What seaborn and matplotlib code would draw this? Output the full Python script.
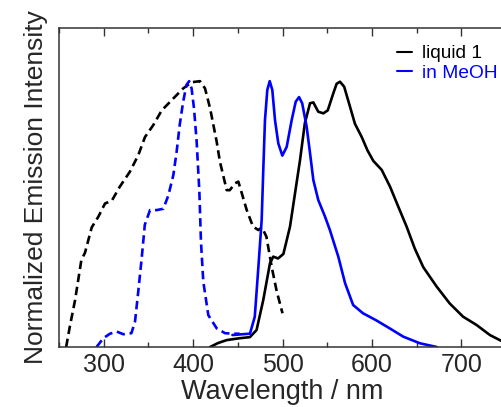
import matplotlib
matplotlib.use("Agg")
import matplotlib.pyplot as plt
import seaborn as sns
from matplotlib.ticker import MultipleLocator, NullLocator
from matplotlib.lines import Line2D

# excitation, liquid 1 (black dashed)
ex_liq_x = [258, 262, 268, 275, 279, 286.6, 294, 301.5, 309, 318, 329.4, 338.7, 346.2, 355.5, 364.9,
            377.9, 389, 398.4, 407.7, 413.3, 419, 426.4, 430, 437.6, 441, 447, 450.6, 454.5, 460,
            467, 473, 477, 482, 488, 493.5, 500]
ex_liq_y = [0, 0.075, 0.177, 0.327, 0.354, 0.45, 0.49, 0.54, 0.55, 0.603, 0.66, 0.722, 0.79, 0.835,
            0.89, 0.935, 0.973, 0.996, 1.0, 0.973, 0.898, 0.772, 0.697, 0.59, 0.59, 0.616, 0.622,
            0.578, 0.515, 0.453, 0.44, 0.45, 0.415, 0.30, 0.21, 0.127]

# excitation, in MeOH (blue dashed)
ex_meoh_x = [292, 299.6, 307, 314.5, 322, 331, 335, 338.7, 342.5, 346, 351.8, 359.3, 366.7, 372.3,
             377.9, 381.6, 385, 388.9, 392.6, 395.6, 398.3, 401, 404, 407, 408.8, 411.4, 417,
             426.4, 435.7, 445, 452]
ex_meoh_y = [0, 0.033, 0.05, 0.058, 0.048, 0.052, 0.095, 0.21, 0.334, 0.46, 0.515, 0.515, 0.52,
             0.57, 0.647, 0.735, 0.835, 0.923, 0.986, 1.0, 0.973, 0.898, 0.772, 0.584, 0.396,
             0.246, 0.12, 0.07, 0.052, 0.05, 0.05]

# emission, liquid 1 (black solid)
em_liq_x = [419, 428, 437.6, 452, 463.5, 471, 478.5, 486, 489.7, 495, 501, 508.4, 514, 519.6, 525,
            530.8, 534.5, 540, 545.7, 550.6, 556.8, 560.5, 564.3, 569, 575.5, 581, 588.6, 595,
            601.6, 611, 620.3, 629.5, 638.8, 648, 657.5, 672.5, 687, 702, 717, 732, 743, 750]
em_liq_y = [0, 0.015, 0.026, 0.033, 0.037, 0.064, 0.177, 0.315, 0.34, 0.333, 0.35, 0.453, 0.578,
            0.703, 0.842, 0.917, 0.92, 0.885, 0.879, 0.89, 0.954, 0.99, 0.998, 0.979, 0.904, 0.84,
            0.79, 0.74, 0.70, 0.666, 0.603, 0.528, 0.453, 0.37, 0.30, 0.227, 0.164, 0.114, 0.083,
            0.045, 0.026, 0.015]

# emission, in MeOH (blue solid)
em_meoh_x = [444, 455, 463.6, 469, 473, 476.7, 478.5, 480.4, 483, 485.7, 488.6, 491.6, 495.3, 499.8,
             504.7, 510.3, 514.8, 518.5, 522, 527, 530.8, 534.5, 540, 547.6, 553, 562.4, 570,
             579, 590, 605, 620, 635, 653.7, 672.5]
em_meoh_y = [0.045, 0.048, 0.05, 0.114, 0.30, 0.478, 0.666, 0.854, 0.967, 1.0, 0.967, 0.854, 0.766,
             0.72, 0.753, 0.854, 0.923, 0.94, 0.917, 0.829, 0.729, 0.628, 0.553, 0.49, 0.44, 0.34,
             0.24, 0.158, 0.127, 0.10, 0.07, 0.039, 0.014, 0.0]

legend_labels = ["liquid 1", "in MeOH"]
x_label = "Wavelength / nm"
y_label = "Normalized Emission Intensity"

sns.set_theme(style="ticks")
plt.rcParams['font.family'] = ['Liberation Sans', 'DejaVu Sans']

BLUE = "#0000ff"
fig = plt.figure(figsize=(5.01, 4.07), dpi=100)
ax = fig.add_axes([59 / 501, 60 / 407, 447 / 501, 319 / 407])

lw = 1.9
dash = (3.2, 1.8)
sns.lineplot(x=ex_liq_x, y=ex_liq_y, ax=ax, color="black", lw=lw, sort=False)
sns.lineplot(x=ex_meoh_x, y=ex_meoh_y, ax=ax, color=BLUE, lw=lw, sort=False)
sns.lineplot(x=em_liq_x, y=em_liq_y, ax=ax, color="black", lw=lw, sort=False)
sns.lineplot(x=em_meoh_x, y=em_meoh_y, ax=ax, color=BLUE, lw=lw, sort=False)
for ln in ax.lines[:2]:
    ln.set_linestyle((0, dash))
for ln in ax.lines:
    ln.set_solid_joinstyle("round")
    ln.set_dash_joinstyle("round")

ax.set_xlim(250, 750)
ax.set_ylim(0, 1.2)
ax.xaxis.set_major_locator(MultipleLocator(100))
ax.xaxis.set_minor_locator(MultipleLocator(50))
ax.yaxis.set_major_locator(NullLocator())
ax.tick_params(axis="x", which="both", direction="in", top=True, bottom=True,
               labelsize=18, pad=4, color="#333333")
ax.tick_params(axis="x", which="major", length=6, width=1)
ax.tick_params(axis="x", which="minor", length=3.5, width=1)
for s in ax.spines.values():
    s.set_linewidth(1.1)
    s.set_color("#333333")

ax.set_xlabel(x_label, fontsize=19.5, labelpad=2)
ax.set_ylabel(y_label, fontsize=19, labelpad=8)

handles = [Line2D([], [], color="black", lw=1.5), Line2D([], [], color=BLUE, lw=1.5)]
leg = fig.legend(handles, legend_labels, loc="upper left",
                 bbox_to_anchor=(397 / 501, 1 - 45 / 407), frameon=False,
                 fontsize=13.8, handlelength=0.8, handletextpad=0.5,
                 labelspacing=0.12, borderpad=0, borderaxespad=0)
leg.get_texts()[0].set_color("black")
leg.get_texts()[1].set_color(BLUE)

fig.savefig("out.png", dpi=100)
